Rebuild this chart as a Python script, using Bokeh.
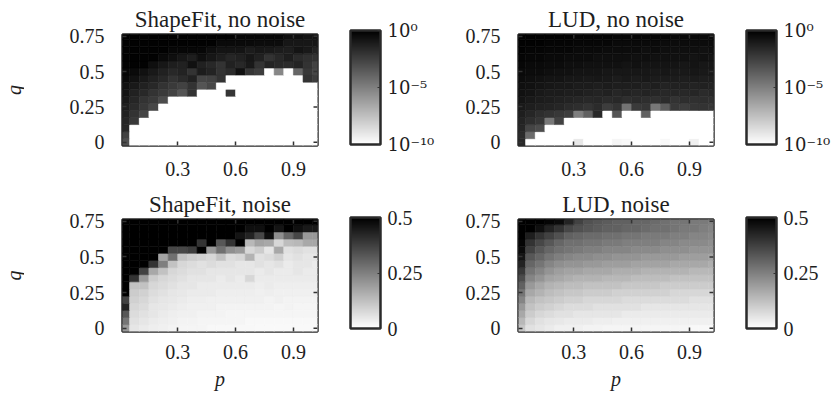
import math
from bokeh.plotting import figure
from bokeh.models import (LinearColorMapper, ColorBar, FixedTicker,
                          ColumnDataSource, Range1d)
from bokeh.core.properties import value
from bokeh.layouts import column, row
from bokeh.embed import file_html
from bokeh.resources import INLINE

# ---------------- data ----------------
# cell centres along p (columns) and q (rows)
p_centers = [0.025, 0.075, 0.125, 0.175, 0.225, 0.275, 0.325, 0.375, 0.425, 0.475,
             0.525, 0.575, 0.625, 0.675, 0.725, 0.775, 0.825, 0.875, 0.925, 0.975, 1.025]
q_values = [0.00, 0.05, 0.10, 0.15, 0.20, 0.25, 0.30, 0.35, 0.40, 0.45,
            0.50, 0.55, 0.60, 0.65, 0.70, 0.75]

p_ticks = [0.3, 0.6, 0.9]
p_tick_labels = ["0.3", "0.6", "0.9"]
q_ticks = [0, 0.25, 0.5, 0.75]
q_tick_labels = ["0", "0.25", "0.5", "0.75"]

log_ticks = [-10, -5, 0]
log_tick_labels = ["10\u207b\u00b9\u2070", "10\u207b\u2075", "10\u2070"]
lin_ticks = [0, 0.25, 0.5]
lin_tick_labels = ["0", "0.25", "0.5"]

titles = ["ShapeFit, no noise", "LUD, no noise", "ShapeFit, noise", "LUD, noise"]

# log10 of the error, rows listed from q = 0.75 (top) down to q = 0 (bottom)
shapefit_clean_log10 = [
    [-0.1]*12 + [-0.3]*5 + [-0.6, -0.6, -0.8, -0.8],
    [-0.1]*10 + [-0.4]*4 + [-0.5]*3 + [-0.9]*4,
    [-0.1]*5 + [-0.3]*4 + [-0.6, -0.8, -0.8, -0.8, -1.1, -0.9, -1.0, -1.1, -1.2, -0.8, -1.0, -1.4],
    [-0.1]*4 + [-0.4, -0.6, -0.9, -1.2, -0.6, -0.9, -1.2, -1.5, -1.3, -0.9, -1.3, -2.0, -1.6, -1.2, -1.7, -1.9, -2.0],
    [-0.1]*3 + [-0.6, -0.9, -1.2, -1.3, -0.7, -1.3, -1.6, -2.0, -1.3, -1.6, -1.0, -2.0, -1.4, -1.6, -1.7, -1.4, -2.0, -2.6],
    [-0.3, -0.4, -0.7, -1.0, -1.3, -1.6, -1.4, -2.0, -1.1, -1.4, -2.0, -1.7, -0.7, -2.1, -2.4, -10, -5.3, -10, -4.0, -2.2, -2.8],
    [-0.4, -0.7, -1.0, -1.3, -1.6, -2.0, -1.7, -1.3, -2.7, -2.6, -2.0] + [-10]*8 + [-2.0, -2.4],
    [-0.7, -1.0, -1.3, -1.6, -2.0, -2.3, -2.6, -2.0, -3.3, -2.8] + [-10]*11,
    [-0.8, -1.3, -1.6, -2.0, -2.3, -2.6, -3.3, -2.0, -10, -10, -10, -2.1] + [-10]*9,
    [-1.0, -1.5, -2.0, -2.3, -3.0] + [-10]*16,
    [-1.2, -1.7, -2.2, -2.8] + [-10]*17,
    [-1.3, -2.0, -2.7] + [-10]*18,
    [-1.5, -2.2] + [-10]*19,
    [-1.6] + [-10]*20,
    [-2.6] + [-10]*20,
    [-3.2] + [-10]*20,
]

lud_clean_log10 = [
    [-0.1, -0.1, -0.1, -0.1, -0.1, -0.1, -0.2, -0.2, -0.2, -0.2, -0.3, -0.3, -0.3, -0.3, -0.3, -0.3, -0.4, -0.4, -0.4, -0.4, -0.4],
    [-0.1, -0.1, -0.1, -0.2, -0.2, -0.2, -0.3, -0.3, -0.3, -0.3, -0.4, -0.4, -0.4, -0.4, -0.4, -0.5, -0.5, -0.5, -0.5, -0.5, -0.5],
    [-0.1, -0.2, -0.2, -0.3, -0.3, -0.3, -0.4, -0.4, -0.4, -0.5, -0.5, -0.5, -0.5, -0.6, -0.5, -0.6, -0.6, -0.6, -0.6, -0.7, -0.6],
    [-0.2, -0.3, -0.3, -0.4, -0.4, -0.5, -0.5, -0.5, -0.6, -0.6, -0.6, -0.6, -0.7, -0.6, -0.7, -0.7, -0.7, -0.7, -0.8, -0.7, -0.8],
    [-0.3, -0.4, -0.4, -0.5, -0.5, -0.6, -0.6, -0.7, -0.7, -0.7, -0.7, -0.8, -0.7, -0.8, -0.8, -0.8, -0.8, -0.9, -0.8, -0.9, -0.9],
    [-0.4, -0.5, -0.5, -0.6, -0.7, -0.7, -0.8, -0.8, -0.8, -0.9, -0.9, -0.9, -0.9, -0.9, -1.0, -0.9, -1.0, -1.0, -0.9, -1.0, -1.0],
    [-0.5, -0.6, -0.7, -0.8, -0.8, -0.9, -0.9, -1.0, -0.9, -1.0, -1.1, -1.0, -1.1, -1.0, -1.1, -1.1, -1.1, -1.2, -1.1, -1.2, -1.2],
    [-0.6, -0.7, -0.8, -0.9, -1.0, -1.0, -1.1, -1.1, -1.2, -1.1, -1.2, -1.2, -1.2, -1.3, -1.2, -1.4, -1.3, -1.3, -1.4, -1.3, -1.4],
    [-0.7, -0.8, -1.0, -1.1, -1.1, -1.2, -1.2, -1.3, -1.4, -1.3, -1.5, -1.4, -1.5, -1.4, -1.5, -1.6, -1.5, -1.6, -1.5, -1.7, -1.6],
    [-0.8, -1.0, -1.1, -1.2, -1.3, -1.4, -1.5, -1.6, -1.5, -1.7, -1.6, -1.8, -1.7, -1.8, -1.9, -1.7, -2.0, -1.8, -1.9, -1.8, -1.9],
    [-1.0, -1.2, -1.3, -1.4, -1.5, -1.7, -1.8, -2.0, -1.7, -2.4, -2.0, -4.5, -2.3, -2.1, -4.7, -3.6, -2.2, -2.4, -2.1, -2.0, -2.2],
    [-1.2, -1.5, -1.8, -2.0, -2.2, -2.4, -5.0, -3.8, -1.6, -10, -3.3, -10, -10, -3.8, -10, -10, -10, -10, -10, -10, -10],
    [-1.4, -1.8, -2.1, -4.7, -2.6] + [-10]*16,
    [-1.5, -2.7, -3.0] + [-10]*18,
    [-1.7, -4.2] + [-10]*19,
    [-1.6, -10, -10, -10, -10, -10, -9.1, -10, -10, -10, -9.6, -9.7, -10, -10, -10, -9.7, -10, -10, -9.4, -10, -10],
]

shapefit_noise = [
    [0.5]*21,
    [0.5]*13 + [0.47, 0.47, 0.5, 0.46, 0.5, 0.47, 0.45, 0.45],
    [0.5]*12 + [0.46, 0.43, 0.36, 0.47, 0.22, 0.30, 0.36, 0.20, 0.20],
    [0.5]*8 + [0.40, 0.5, 0.33, 0.40, 0.5, 0.14, 0.18, 0.17, 0.08, 0.13, 0.14, 0.17, 0.17],
    [0.5]*5 + [0.36, 0.36, 0.38, 0.5, 0.20, 0.28, 0.22, 0.20, 0.08, 0.10, 0.05, 0.17, 0.06, 0.07, 0.06, 0.06],
    [0.5]*4 + [0.18, 0.28, 0.12, 0.10, 0.09, 0.08, 0.12, 0.07, 0.08, 0.15, 0.06, 0.07, 0.09, 0.05, 0.06, 0.05, 0.05],
    [0.5]*3 + [0.40, 0.25, 0.12, 0.08, 0.07, 0.06, 0.07, 0.06, 0.06, 0.05, 0.05, 0.06, 0.05, 0.06, 0.04, 0.05, 0.05, 0.04],
    [0.5, 0.5, 0.37, 0.17, 0.12, 0.08, 0.07, 0.06, 0.06, 0.05, 0.05, 0.05, 0.05, 0.05, 0.04, 0.05, 0.04, 0.04, 0.05, 0.04, 0.04],
    [0.5, 0.40, 0.20, 0.10, 0.08, 0.07, 0.06, 0.05, 0.05, 0.05, 0.04, 0.05, 0.04, 0.08, 0.04, 0.04, 0.04, 0.04, 0.04, 0.04, 0.04],
    [0.5, 0.12, 0.12, 0.08, 0.07, 0.06, 0.05, 0.05, 0.04, 0.04, 0.04, 0.04, 0.04, 0.04, 0.035, 0.04, 0.035, 0.035, 0.035, 0.035, 0.035],
    [0.5, 0.10, 0.09, 0.07, 0.06, 0.05, 0.045, 0.04, 0.04, 0.04, 0.035, 0.035, 0.035, 0.035, 0.03, 0.035, 0.03, 0.03, 0.03, 0.03, 0.03],
    [0.37, 0.09, 0.08, 0.06, 0.05, 0.045, 0.04, 0.035, 0.035, 0.03, 0.03, 0.03, 0.03, 0.03, 0.03, 0.025, 0.03, 0.025, 0.025, 0.025, 0.025],
    [0.43, 0.08, 0.07, 0.05, 0.045, 0.04, 0.035, 0.03, 0.03, 0.03, 0.025, 0.025, 0.025, 0.025, 0.025, 0.025, 0.02, 0.025, 0.02, 0.02, 0.02],
    [0.33, 0.07, 0.06, 0.05, 0.04, 0.035, 0.03, 0.03, 0.025, 0.025, 0.025, 0.02, 0.02, 0.02, 0.02, 0.02, 0.02, 0.02, 0.02, 0.02, 0.02],
    [0.27, 0.06, 0.05, 0.04, 0.035, 0.03, 0.025, 0.025, 0.02, 0.02, 0.02, 0.02, 0.02, 0.015, 0.015, 0.015, 0.015, 0.015, 0.015, 0.015, 0.015],
    [0.20, 0.05, 0.04, 0.035, 0.03, 0.025, 0.02, 0.02, 0.02, 0.015, 0.015, 0.015, 0.015, 0.015, 0.012, 0.012, 0.012, 0.012, 0.012, 0.012, 0.012],
]

lud_noise = [
    [0.50, 0.50, 0.50, 0.49, 0.48, 0.43, 0.37, 0.34, 0.33, 0.32, 0.31, 0.31, 0.30, 0.30, 0.29, 0.28, 0.27, 0.27, 0.26, 0.26, 0.25],
    [0.50, 0.50, 0.47, 0.43, 0.40, 0.36, 0.34, 0.33, 0.32, 0.31, 0.31, 0.30, 0.30, 0.29, 0.28, 0.28, 0.27, 0.26, 0.26, 0.25, 0.24],
    [0.50, 0.44, 0.40, 0.37, 0.34, 0.31, 0.30, 0.29, 0.29, 0.28, 0.28, 0.27, 0.27, 0.26, 0.26, 0.26, 0.25, 0.25, 0.24, 0.24, 0.23],
    [0.49, 0.40, 0.36, 0.33, 0.30, 0.28, 0.28, 0.27, 0.27, 0.26, 0.26, 0.25, 0.25, 0.25, 0.25, 0.24, 0.24, 0.23, 0.23, 0.23, 0.22],
    [0.48, 0.37, 0.33, 0.30, 0.28, 0.27, 0.26, 0.25, 0.25, 0.24, 0.24, 0.24, 0.23, 0.23, 0.23, 0.22, 0.22, 0.22, 0.21, 0.21, 0.21],
    [0.46, 0.33, 0.30, 0.27, 0.25, 0.24, 0.23, 0.23, 0.22, 0.22, 0.21, 0.21, 0.21, 0.20, 0.20, 0.20, 0.20, 0.19, 0.19, 0.19, 0.18],
    [0.43, 0.30, 0.27, 0.24, 0.22, 0.21, 0.21, 0.20, 0.20, 0.19, 0.19, 0.19, 0.18, 0.18, 0.18, 0.18, 0.17, 0.17, 0.17, 0.17, 0.16],
    [0.39, 0.27, 0.24, 0.21, 0.19, 0.18, 0.18, 0.17, 0.17, 0.17, 0.16, 0.16, 0.16, 0.15, 0.15, 0.15, 0.15, 0.15, 0.14, 0.14, 0.14],
    [0.35, 0.24, 0.21, 0.18, 0.17, 0.16, 0.15, 0.15, 0.15, 0.14, 0.14, 0.14, 0.13, 0.13, 0.13, 0.13, 0.12, 0.12, 0.12, 0.12, 0.12],
    [0.31, 0.20, 0.17, 0.15, 0.14, 0.13, 0.13, 0.12, 0.12, 0.12, 0.12, 0.11, 0.11, 0.11, 0.11, 0.10, 0.10, 0.10, 0.10, 0.10, 0.10],
    [0.27, 0.17, 0.15, 0.13, 0.12, 0.11, 0.11, 0.10, 0.10, 0.10, 0.09, 0.09, 0.09, 0.09, 0.09, 0.09, 0.08, 0.08, 0.08, 0.08, 0.08],
    [0.24, 0.14, 0.12, 0.11, 0.10, 0.09, 0.09, 0.08, 0.08, 0.08, 0.08, 0.07, 0.07, 0.07, 0.07, 0.07, 0.07, 0.07, 0.06, 0.06, 0.06],
    [0.20, 0.12, 0.10, 0.09, 0.08, 0.07, 0.07, 0.07, 0.06, 0.06, 0.06, 0.06, 0.06, 0.05, 0.05, 0.05, 0.05, 0.05, 0.05, 0.05, 0.05],
    [0.17, 0.10, 0.08, 0.07, 0.06, 0.06, 0.05, 0.05, 0.05, 0.05, 0.05, 0.04, 0.04, 0.04, 0.04, 0.04, 0.04, 0.04, 0.04, 0.04, 0.04],
    [0.14, 0.08, 0.06, 0.05, 0.045, 0.04, 0.04, 0.04, 0.035, 0.035, 0.03, 0.03, 0.03, 0.03, 0.03, 0.03, 0.03, 0.03, 0.03, 0.03, 0.03],
    [0.11, 0.06, 0.05, 0.04, 0.03, 0.03, 0.03, 0.025, 0.025, 0.02, 0.02, 0.02, 0.02, 0.02, 0.02, 0.02, 0.02, 0.02, 0.015, 0.015, 0.015],
]

# ---------------- style ----------------
FONT = "Liberation Serif"
SUP_FONT = "DejaVu Serif"
TXT = "#1e1e1e"
EDGE = "#2a2a2a"
TICK = "#333333"
GRAYS = ["#%02x%02x%02x" % (g, g, g) for g in range(255, -1, -1)]  # white -> black

X0, X1 = 0.013, 1.025
Y0, Y1 = -0.023, 0.762
FW = 195
QW = 24  # width of the strip that carries the rotated "q" labels


def style_axis(ax):
    ax.axis_line_color = None
    ax.major_tick_in = 4
    ax.major_tick_out = 0
    ax.major_tick_line_color = TICK
    ax.major_tick_line_width = 1.5
    ax.minor_tick_line_color = None
    ax.major_label_text_font = FONT
    ax.major_label_text_color = TXT
    ax.major_label_text_font_size = "20px"


def panel(matrix_top_down, mapper, ticks, tick_labels, cb_font, cb_size, title,
          fh, left, right, top, bottom, title_standoff, x_standoff, bottom_row,
          cb_h, cb_y):
    p = figure(frame_width=FW, frame_height=fh, output_backend="svg",
               toolbar_location=None, x_range=Range1d(X0, X1), y_range=Range1d(Y0, Y1),
               min_border_left=left, min_border_right=right,
               min_border_top=top, min_border_bottom=bottom)
    p.background_fill_color = "white"
    p.border_fill_color = "white"
    p.grid.visible = False
    p.outline_line_color = EDGE
    p.outline_line_width = 2.5

    p.title.text = title
    p.title.align = "center"
    p.title.text_font = FONT
    p.title.text_font_size = "23px"
    p.title.text_font_style = "normal"
    p.title.text_color = TXT
    p.title.standoff = title_standoff

    rows_bottom_up = matrix_top_down[::-1]
    xs, ys, vs = [], [], []
    for i, q in enumerate(q_values):
        for j, pv in enumerate(p_centers):
            xs.append(pv)
            ys.append(q)
            vs.append(rows_bottom_up[i][j])
    src = ColumnDataSource(dict(x=xs, y=ys, v=vs))
    cw = p_centers[1] - p_centers[0]
    ch = q_values[1] - q_values[0]
    p.rect(x="x", y="y", width=cw, height=ch, source=src,
           fill_color={"field": "v", "transform": mapper},
           line_color={"field": "v", "transform": mapper}, line_width=0.6)

    style_axis(p.xaxis[0])
    style_axis(p.yaxis[0])
    p.xaxis.ticker = FixedTicker(ticks=p_ticks)
    p.xaxis.major_label_overrides = dict(zip(p_ticks, p_tick_labels))
    p.xaxis.major_label_standoff = x_standoff
    p.yaxis.ticker = FixedTicker(ticks=q_ticks)
    p.yaxis.major_label_overrides = dict(zip(q_ticks, q_tick_labels))
    p.yaxis.major_label_standoff = 18
    if bottom_row:
        p.xaxis.axis_label = "p"
        p.xaxis.axis_label_text_font = FONT
        p.xaxis.axis_label_text_font_style = "italic"
        p.xaxis.axis_label_text_font_size = "20px"
        p.xaxis.axis_label_text_color = TXT
        p.xaxis.axis_label_standoff = 6

    # short inward tick marks on the top and right edges of the frame
    p.ray(x=p_ticks, y=[Y1] * len(p_ticks), length=4, length_units="screen",
          angle=-math.pi / 2, line_color=TICK, line_width=1.5)
    p.ray(x=[X1] * len(q_ticks), y=q_ticks, length=4, length_units="screen",
          angle=math.pi, line_color=TICK, line_width=1.5)

    cb = ColorBar(color_mapper=mapper, ticker=FixedTicker(ticks=ticks),
                  major_label_overrides=dict(zip(ticks, tick_labels)),
                  width=30, height=cb_h, location=(33, cb_y), padding=0, margin=0,
                  label_standoff=7, major_tick_in=3, major_tick_out=0,
                  major_tick_line_color=TICK, minor_tick_line_color=None,
                  bar_line_color=EDGE, bar_line_width=2.5,
                  border_line_color=None, background_fill_alpha=0,
                  major_label_text_font=cb_font, major_label_text_font_size=cb_size,
                  major_label_text_color=TXT)
    p.add_layout(cb, "right")
    return p


log_mapper = LinearColorMapper(palette=GRAYS, low=-10, high=0)
lin_mapper = LinearColorMapper(palette=GRAYS, low=0, high=0.5)

# row 1: figure top at 0, frame top at 34; row 2 starts at 185, frame top at 219
p1 = panel(shapefit_clean_log10, log_mapper, log_ticks, log_tick_labels, SUP_FONT, "18px",
           titles[0], 111, 122 - QW, 121, 34, 40, 6, 16, False, 114, 1)
p2 = panel(lud_clean_log10, log_mapper, log_ticks, log_tick_labels, SUP_FONT, "18px",
           titles[1], 111, 80, 114, 34, 40, 6, 16, False, 114, 1)
p3 = panel(shapefit_noise, lin_mapper, lin_ticks, lin_tick_labels, FONT, "20px",
           titles[2], 112, 122 - QW, 121, 34, 65, 6, 13, True, 111, 3)
p4 = panel(lud_noise, lin_mapper, lin_ticks, lin_tick_labels, FONT, "20px",
           titles[3], 112, 80, 114, 34, 65, 6, 13, True, 111, 3)

# strip on the left with the rotated q labels, centred on each panel row
H_TOTAL = 34 + 111 + 40 + 34 + 112 + 65
qfig = figure(width=QW, height=H_TOTAL, output_backend="svg", toolbar_location=None,
              x_range=Range1d(0, QW), y_range=Range1d(H_TOTAL, 0),
              min_border=0, min_border_left=0, min_border_right=0,
              min_border_top=0, min_border_bottom=0)
qfig.axis.visible = False
qfig.grid.visible = False
qfig.outline_line_color = None
qfig.background_fill_color = "white"
qfig.border_fill_color = "white"
row_centres = [34 + 111 / 2, 185 + 34 + 112 / 2]
qfig.text(x=[13, 13], y=row_centres, text=["q", "q"], angle=math.pi / 2,
          text_align="center", text_baseline="alphabetic",
          text_font=value(FONT), text_font_style="italic",
          text_font_size="20px", text_color=TXT)

layout = row(qfig, column(row(p1, p2), row(p3, p4)))
open("out.html", "w").write(file_html(layout, INLINE))
